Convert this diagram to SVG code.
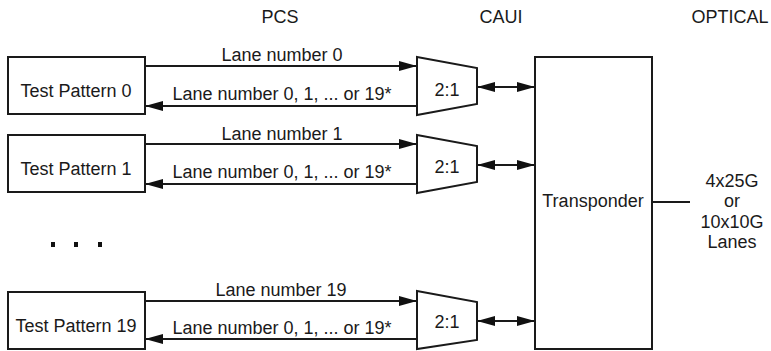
<svg xmlns="http://www.w3.org/2000/svg" width="771" height="351" viewBox="0 0 771 351">
<style>
text{font-family:"Liberation Sans",Arial,sans-serif;font-size:18px;fill:#1a1a1a}
.m{text-anchor:middle}
.box{fill:#fff;stroke:#1a1a1a;stroke-width:2}
.ln{stroke:#1a1a1a;stroke-width:2;fill:none}
</style>
<defs>
<marker id="ah" viewBox="0 0 18 10" markerWidth="18" markerHeight="10" refX="18" refY="5" orient="auto-start-reverse" markerUnits="userSpaceOnUse">
<path d="M0,0 L18,5 L0,10 z" fill="#111"/>
</marker>
</defs>
<rect width="771" height="351" fill="#fff"/>
<g id="headers">
<text class="m" x="280" y="23">PCS</text>
<text class="m" x="501" y="23">CAUI</text>
<text class="m" x="730" y="23">OPTICAL</text>
</g>
<g id="connectors">
<line class="ln" x1="145" y1="66" x2="417" y2="66" marker-end="url(#ah)"/>
<line class="ln" x1="417" y1="106" x2="145" y2="106" marker-end="url(#ah)"/>
<line class="ln" x1="477" y1="87" x2="535" y2="87" marker-start="url(#ah)" marker-end="url(#ah)"/>
<line class="ln" x1="145" y1="144" x2="417" y2="144" marker-end="url(#ah)"/>
<line class="ln" x1="417" y1="184" x2="145" y2="184" marker-end="url(#ah)"/>
<line class="ln" x1="477" y1="165" x2="535" y2="165" marker-start="url(#ah)" marker-end="url(#ah)"/>
<line class="ln" x1="145" y1="301" x2="417" y2="301" marker-end="url(#ah)"/>
<line class="ln" x1="417" y1="339" x2="145" y2="339" marker-end="url(#ah)"/>
<line class="ln" x1="477" y1="321" x2="535" y2="321" marker-start="url(#ah)" marker-end="url(#ah)"/>
<line class="ln" x1="652" y1="202" x2="690" y2="202"/>
<text class="m" x="282" y="61">Lane number 0</text>
<text class="m" x="282" y="99.5">Lane number 0, 1, ... or 19*</text>
<text class="m" x="282" y="139.5">Lane number 1</text>
<text class="m" x="282" y="177.5">Lane number 0, 1, ... or 19*</text>
<text class="m" x="281" y="296">Lane number 19</text>
<text class="m" x="282" y="333.5">Lane number 0, 1, ... or 19*</text>
</g>
<g id="tp0">
<rect class="box" x="8" y="57" width="137" height="57"/>
<text class="m" x="76" y="97">Test Pattern 0</text>
</g>
<g id="tp1">
<rect class="box" x="8" y="135" width="137" height="57"/>
<text class="m" x="76" y="175">Test Pattern 1</text>
</g>
<g id="dots">
<rect x="51" y="242" width="4" height="5" fill="#111"/>
<rect x="74" y="242" width="4" height="5" fill="#111"/>
<rect x="98" y="242" width="4" height="5" fill="#111"/>
</g>
<g id="tp19">
<rect class="box" x="8" y="292" width="137" height="57"/>
<text class="m" x="76" y="332">Test Pattern 19</text>
</g>
<g id="mux0">
<path class="box" d="M417,57 L477,68 L477,104 L417,115 z"/>
<text class="m" x="447" y="96">2:1</text>
</g>
<g id="mux1">
<path class="box" d="M417,135 L477,146 L477,182 L417,193 z"/>
<text class="m" x="447" y="173">2:1</text>
</g>
<g id="mux19">
<path class="box" d="M417,291 L477,302 L477,340 L417,349 z"/>
<text class="m" x="447" y="328">2:1</text>
</g>
<g id="transponder">
<rect class="box" x="535" y="57" width="117" height="292"/>
<text class="m" x="593" y="207">Transponder</text>
</g>
<g id="optical">
<text class="m" x="732" y="187">4x25G</text>
<text class="m" x="732" y="207">or</text>
<text class="m" x="732" y="228">10x10G</text>
<text class="m" x="732" y="248">Lanes</text>
</g>
</svg>
